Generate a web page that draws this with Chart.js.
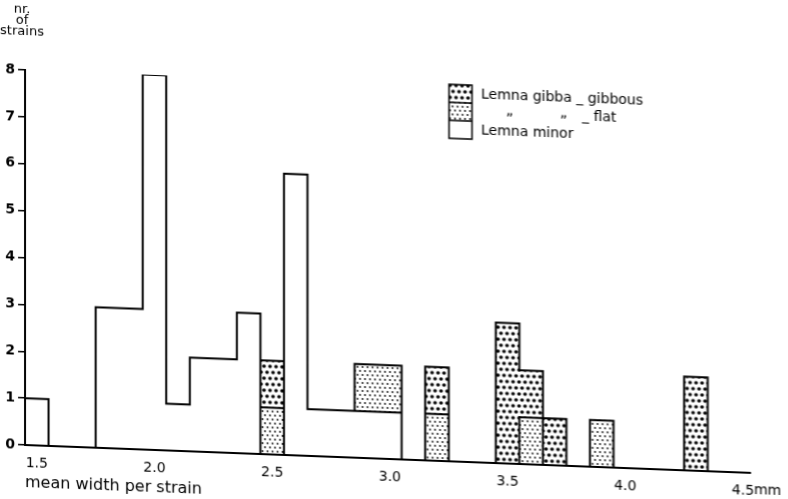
<!DOCTYPE html>
<html>
<head>
<meta charset="utf-8">
<script src="https://cdn.jsdelivr.net/npm/chart.js@4.4.1/dist/chart.umd.min.js"></script>
<style>
  html, body { margin: 0; padding: 0; background: #fff; overflow: hidden; }
  #lemnaChart { display: block; transform: skewY(2.2deg); transform-origin: 25px 445px; }
</style>
</head>
<body>
<canvas id="lemnaChart" width="788" height="499"></canvas>
<script>
// bin centres (mm), bins are 0.1 mm wide
var widthBins    = [1.5, 1.6, 1.7, 1.8, 1.9, 2.0, 2.1, 2.2, 2.3, 2.4, 2.5, 2.6, 2.7, 2.8, 2.9, 3.0, 3.1, 3.2, 3.3, 3.4, 3.5, 3.6, 3.7, 3.8, 3.9, 4.0, 4.1, 4.2, 4.3];
var lemnaMinor   = [1,   0,   0,   3,   3,   8,   1,   2,   2,   3,   0,   6,   1,   1,   1,   1,   0,   0,   0,   0,   0,   0,   0,   0,   0,   0,   0,   0,   0];
var gibbaFlat    = [0,   0,   0,   0,   0,   0,   0,   0,   0,   0,   1,   0,   0,   0,   1,   1,   0,   1,   0,   0,   0,   1,   0,   0,   1,   0,   0,   0,   0];
var gibbaGibbous = [0,   0,   0,   0,   0,   0,   0,   0,   0,   0,   1,   0,   0,   0,   0,   0,   0,   1,   0,   0,   3,   1,   1,   0,   0,   0,   0,   0,   2];
var binWidth = 0.1;

var xTicks = [1.5, 2.0, 2.5, 3.0, 3.5, 4.0, 4.5];
var unitLabel = "mm";
var xTitle = "mean width per strain";
var yTitleLines = ["nr.", "of", "strains"];
var legendLabels = ["Lemna gibba _ gibbous", "Lemna minor"];
var dittoRow = ["\u201E", "\u201E", "_ flat"];

var FONT = "'DejaVu Sans', sans-serif";
var canvas = document.getElementById("lemnaChart");
var ctx = canvas.getContext("2d");

function dotPattern(w, h, dots, r) {
    var c = document.createElement("canvas");
    c.width = w; c.height = h;
    var g = c.getContext("2d");
    g.fillStyle = "#fff";
    g.fillRect(0, 0, w, h);
    g.fillStyle = "#000";
    dots.forEach(function (d) {
        g.beginPath();
        g.arc(d[0], d[1], r, 0, Math.PI * 2);
        g.fill();
    });
    return ctx.createPattern(c, "repeat");
}

var gibbousFill = dotPattern(6, 12, [[3, 3], [0, 9], [6, 9]], 1.8);
var flatFill = dotPattern(5, 8, [[2.5, 2], [0, 6], [5, 6]], 0.9);

function rnd(v) { return +v.toFixed(3); }

function toPoints(vals) {
    return widthBins.map(function (x, i) { return { x: x, y: vals[i] > 0 ? vals[i] : null }; });
}

// stacked rectangles: minor at the bottom, then flat, then gibbous
function buildRects() {
    var rects = [], half = binWidth / 2;
    widthBins.forEach(function (c, i) {
        var base = 0;
        [["minor", lemnaMinor], ["flat", gibbaFlat], ["gibbous", gibbaGibbous]].forEach(function (s) {
            var v = s[1][i];
            if (v > 0) {
                rects.push({ t: s[0], l: rnd(c - half), r: rnd(c + half), y0: base, y1: base + v });
                base += v;
            }
        });
    });
    return rects;
}

function subtract(a0, a1, cuts) {
    var segs = [[a0, a1]];
    cuts.forEach(function (c) {
        var next = [];
        segs.forEach(function (s) {
            if (c[1] <= s[0] || c[0] >= s[1]) { next.push(s); return; }
            if (c[0] > s[0]) next.push([s[0], c[0]]);
            if (c[1] < s[1]) next.push([c[1], s[1]]);
        });
        segs = next;
    });
    return segs;
}

// edges of every rectangle, leaving out sides shared with the same kind
function edgePoints() {
    var rects = buildRects(), pts = [];
    function seg(x0, y0, x1, y1) { pts.push({ x: x0, y: y0 }, { x: x1, y: y1 }, { x: x1, y: null }); }
    rects.forEach(function (a) {
        seg(a.l, a.y1, a.r, a.y1);
        seg(a.l, a.y0, a.r, a.y0);
        ["l", "r"].forEach(function (side) {
            var x = a[side];
            var cuts = rects.filter(function (b) {
                return b.t === a.t && (side === "l" ? b.r === a.l : b.l === a.r);
            }).map(function (b) { return [b.y0, b.y1]; });
            subtract(a.y0, a.y1, cuts).forEach(function (s) { seg(x, s[0], x, s[1]); });
        });
    });
    return pts;
}

var extraText = {
    id: "extraText",
    afterDraw: function (chart) {
        var c = chart.ctx;
        var xs = chart.scales.x;
        c.save();
        c.fillStyle = "#000";
        c.strokeStyle = "#000";

        // y axis title
        c.font = "13px " + FONT;
        c.textAlign = "center";
        c.textBaseline = "middle";
        yTitleLines.forEach(function (t, i) { c.fillText(t, 22, 10 + i * 11); });

        // unit after last tick
        c.font = "14px " + FONT;
        c.textAlign = "left";
        c.textBaseline = "top";
        c.fillText(unitLabel, xs.getPixelForValue(4.5) + 11, chart.chartArea.bottom + 10);

        // legend
        var lx = 449, ly = 68, bw = 23, rh = 18;
        var fills = [gibbousFill, flatFill, "#fff"];
        fills.forEach(function (f, i) {
            c.fillStyle = f;
            c.fillRect(lx, ly + i * rh, bw, rh);
        });
        c.lineWidth = 1.5;
        c.strokeRect(lx, ly, bw, rh * 3);
        c.beginPath();
        c.moveTo(lx, ly + rh); c.lineTo(lx + bw, ly + rh);
        c.moveTo(lx, ly + 2 * rh); c.lineTo(lx + bw, ly + 2 * rh);
        c.stroke();

        c.fillStyle = "#000";
        c.textBaseline = "middle";
        c.fillText(legendLabels[0], lx + 32, ly + rh / 2);
        c.fillText(dittoRow[0], 506, ly + rh * 1.5 - 3);
        c.fillText(dittoRow[1], 560, ly + rh * 1.5 - 3);
        c.fillText(dittoRow[2], 582, ly + rh * 1.5);
        c.fillText(legendLabels[1], lx + 32, ly + rh * 2.5);
        c.restore();
    }
};

var lemnaChart = new Chart(ctx, {
    type: "bar",
    data: {
        datasets: [
            {
                label: "Lemna minor",
                data: toPoints(lemnaMinor),
                backgroundColor: "#fff",
                borderWidth: 0
            },
            {
                label: "Lemna gibba - flat",
                data: toPoints(gibbaFlat),
                backgroundColor: flatFill,
                borderWidth: 0
            },
            {
                label: "Lemna gibba - gibbous",
                data: toPoints(gibbaGibbous),
                backgroundColor: gibbousFill,
                borderWidth: 0
            },
            {
                type: "line",
                label: "edges",
                data: edgePoints(),
                stack: "edges",
                order: -1,
                borderColor: "#000",
                borderWidth: 2,
                borderCapStyle: "square",
                pointRadius: 0,
                fill: false,
                tension: 0
            }
        ]
    },
    options: {
        responsive: false,
        animation: false,
        events: [],
        barPercentage: 1,
        categoryPercentage: 1,
        layout: { padding: { top: 70, right: 38, left: 0, bottom: 0 } },
        scales: {
            x: {
                type: "linear",
                offset: false,
                stacked: true,
                min: 1.45,
                max: 4.53,
                afterBuildTicks: function (scale) {
                    scale.ticks = xTicks.map(function (v) { return { value: v }; });
                },
                afterFit: function (scale) { scale.height = 54; },
                grid: { display: false, drawTicks: false },
                border: { color: "#000", width: 2 },
                ticks: {
                    padding: 10,
                    color: "#000",
                    font: { size: 14, family: FONT },
                    maxRotation: 0,
                    autoSkip: false,
                    callback: function (v) { return Number(v).toFixed(1); }
                },
                title: {
                    display: true,
                    text: xTitle,
                    align: "start",
                    color: "#000",
                    font: { size: 16, family: FONT },
                    padding: { top: 0, bottom: 7 }
                }
            },
            y: {
                stacked: true,
                min: 0,
                max: 8,
                afterFit: function (scale) { scale.width = 25; },
                grid: { drawOnChartArea: false, drawTicks: true, tickLength: 7, color: "#000", lineWidth: 1.5 },
                border: { color: "#000", width: 2 },
                ticks: {
                    stepSize: 1,
                    padding: 3,
                    color: "#000",
                    font: { size: 14, family: FONT, weight: "bold" }
                }
            }
        },
        plugins: {
            legend: { display: false },
            tooltip: { enabled: false },
            title: { display: false }
        }
    },
    plugins: [extraText]
});
</script>
</body>
</html>
